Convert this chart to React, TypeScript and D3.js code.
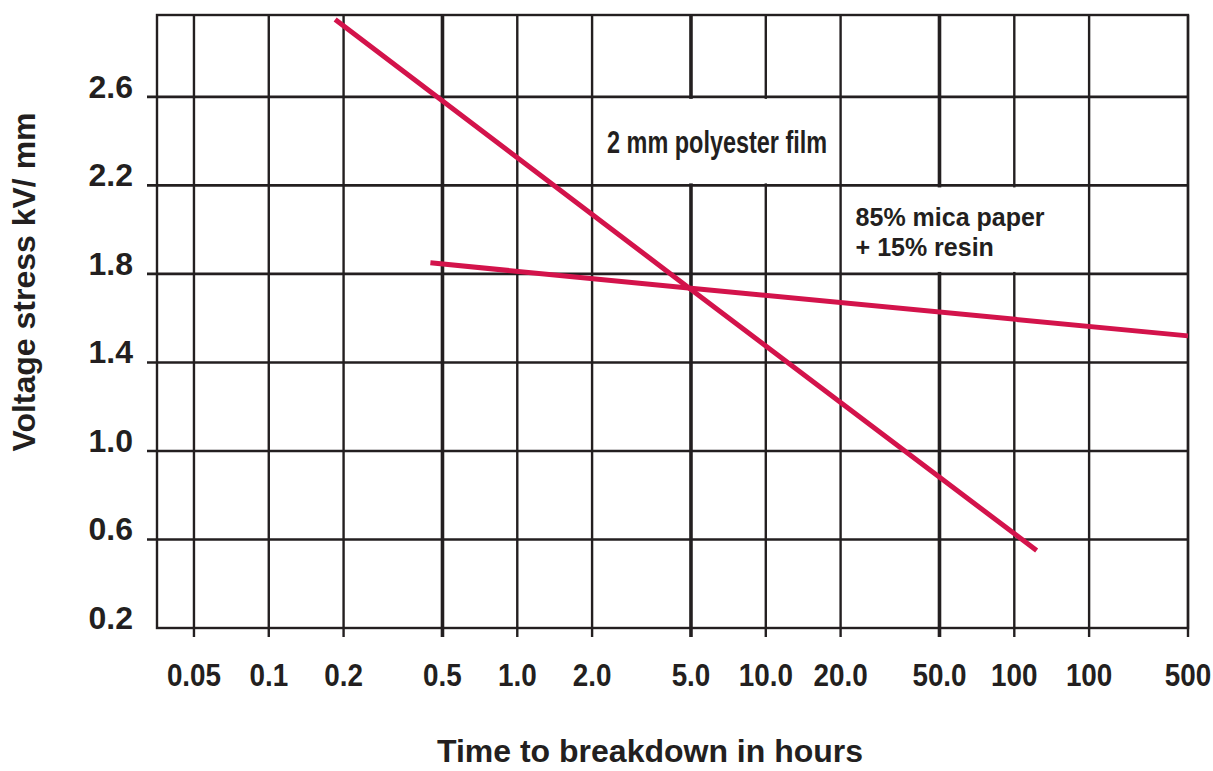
import React, { useEffect, useRef } from 'react';
import * as d3 from 'd3';

// Hours axis is logarithmic. The source figure prints "100" twice (the 2nd one sits at 200).
const timeTicks = [0.05, 0.1, 0.2, 0.5, 1, 2, 5, 10, 20, 50, 100, 200, 500];
const timeTickLabels = ['0.05', '0.1', '0.2', '0.5', '1.0', '2.0', '5.0', '10.0', '20.0', '50.0', '100', '100', '500'];

const stressTicks = [0.2, 0.6, 1.0, 1.4, 1.8, 2.2, 2.6];
const stressTickLabels = ['0.2', '0.6', '1.0', '1.4', '1.8', '2.2', '2.6'];

// series (hours, kV/mm)
const polyesterHours = [0.185, 5, 123];
const polyesterStress = [2.95, 1.73, 0.55];
const micaHours = [0.447, 5, 500];
const micaStress = [1.85, 1.735, 1.52];

const INK = '#231f20';
const RED = '#d3134b';
const FONT = '"Liberation Sans", Arial, Helvetica, sans-serif';

const App = () => {
  const svgRef = useRef(null);

  useEffect(() => {
    if (!svgRef.current) return;
    const svg = d3.select(svgRef.current);
    svg.selectAll('*').remove();

    const width = 1213;
    const height = 771;
    const left = 157;
    const right = 1188;
    const top = 15;
    const bottom = 628;

    const x = d3.scaleLog().domain([0.0355, 500]).range([left, right]);
    const y = d3.scaleLinear().domain([0.2, 2.97]).range([bottom, top]);

    svg.attr('width', width).attr('height', height);

    const heavy = (v) => v === 0.5 || v === 5 || v === 50;

    // horizontal grid lines (with small ticks sticking out left)
    svg.append('g')
      .selectAll('line')
      .data(stressTicks.filter(v => v !== 0.2))
      .enter()
      .append('line')
      .attr('x1', left - 10)
      .attr('x2', right)
      .attr('y1', d => y(d))
      .attr('y2', d => y(d))
      .attr('stroke', INK)
      .attr('stroke-width', 2.6);

    // vertical grid lines (with ticks sticking out below)
    svg.append('g')
      .selectAll('line')
      .data(timeTicks)
      .enter()
      .append('line')
      .attr('x1', d => x(d))
      .attr('x2', d => x(d))
      .attr('y1', top)
      .attr('y2', bottom + 9)
      .attr('stroke', INK)
      .attr('stroke-width', d => (heavy(d) ? 3.6 : 2.4));

    // frame
    svg.append('rect')
      .attr('x', left)
      .attr('y', top)
      .attr('width', right - left)
      .attr('height', bottom - top)
      .attr('fill', 'none')
      .attr('stroke', INK)
      .attr('stroke-width', 2.4);

    // white label boxes hide the grid behind the annotations
    const box = (x0, x1, y0, y1) => {
      svg.append('rect')
        .attr('x', x(x0) + 2)
        .attr('y', y(y0) + 2)
        .attr('width', x(x1) - x(x0) - 4)
        .attr('height', y(y1) - y(y0) - 4)
        .attr('fill', '#fff');
    };
    box(2, 20, 2.6, 2.2);
    box(20, 200, 2.2, 1.8);

    const text = (sel) => sel
      .attr('font-family', FONT)
      .attr('font-weight', 'bold')
      .attr('fill', INK);

    // y tick labels
    svg.append('g')
      .selectAll('text')
      .data(stressTicks)
      .enter()
      .append('text')
      .call(text)
      .attr('x', 133)
      .attr('y', d => y(d) + 1)
      .attr('text-anchor', 'end')
      .attr('font-size', 32)
      .text((d, i) => stressTickLabels[i]);

    // x tick labels (condensed)
    svg.append('g')
      .selectAll('text')
      .data(timeTicks)
      .enter()
      .append('text')
      .call(text)
      .attr('transform', d => `translate(${x(d)}, 686) scale(0.87, 1)`)
      .attr('text-anchor', 'middle')
      .attr('font-size', 32)
      .text((d, i) => timeTickLabels[i]);

    // axis titles
    svg.append('text')
      .call(text)
      .attr('x', 650)
      .attr('y', 762)
      .attr('text-anchor', 'middle')
      .attr('font-size', 32)
      .text('Time to breakdown in hours');

    svg.append('text')
      .call(text)
      .attr('transform', 'translate(35, 282) rotate(-90)')
      .attr('text-anchor', 'middle')
      .attr('font-size', 32)
      .text('Voltage stress kV/ mm');

    // annotations
    svg.append('text')
      .call(text)
      .attr('x', x(2) + 15)
      .attr('y', y(2.6) + 56)
      .attr('font-size', 32)
      .attr('textLength', 220)
      .attr('lengthAdjust', 'spacingAndGlyphs')
      .text('2 mm polyester film');

    svg.append('text')
      .call(text)
      .attr('x', x(20) + 15)
      .attr('y', y(2.2) + 41)
      .attr('font-size', 25)
      .text('85% mica paper');

    svg.append('text')
      .call(text)
      .attr('x', x(20) + 15)
      .attr('y', y(2.2) + 71)
      .attr('font-size', 25)
      .text('+ 15% resin');

    // curves
    const line = d3.line()
      .x(d => x(d[0]))
      .y(d => y(d[1]));

    const series = [
      polyesterHours.map((h, i) => [h, polyesterStress[i]]),
      micaHours.map((h, i) => [h, micaStress[i]])
    ];

    svg.append('g')
      .selectAll('path')
      .data(series)
      .enter()
      .append('path')
      .attr('d', line)
      .attr('fill', 'none')
      .attr('stroke', RED)
      .attr('stroke-width', 5);
  }, []);

  return (
    <svg ref={svgRef} style={{ position: 'absolute', left: 0, top: 0, background: '#fff' }} />
  );
};

export default App;
